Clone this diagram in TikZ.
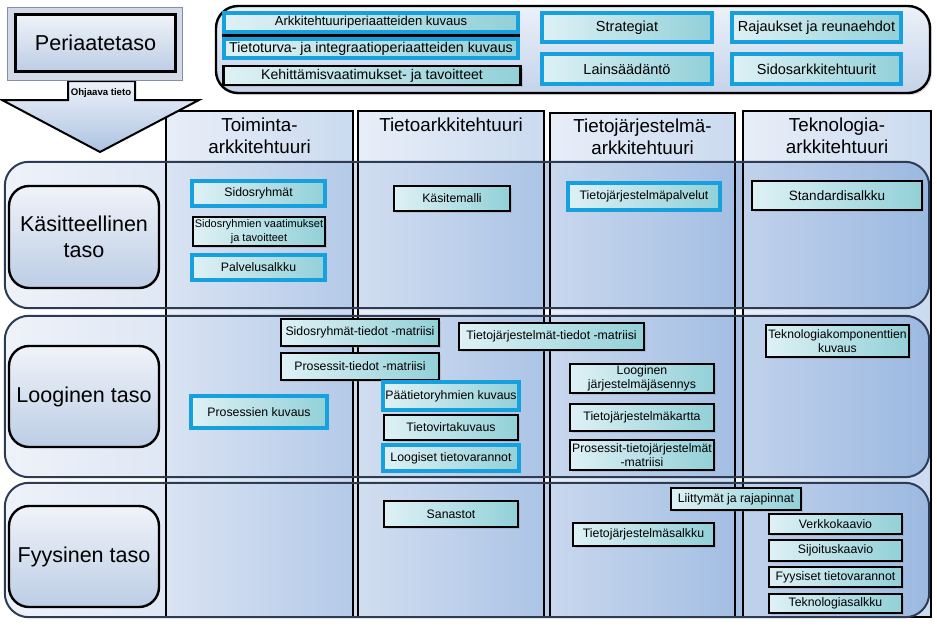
\documentclass[tikz,border=0pt]{standalone}
\usepackage{fontspec}
\setmainfont{Liberation Sans}
\usetikzlibrary{shadows}
\definecolor{bblue}{RGB}{22,160,222}
\definecolor{boxL}{RGB}{222,241,245}
\definecolor{boxR}{RGB}{146,208,216}
\definecolor{rowL}{RGB}{238,242,249}
\definecolor{rowR}{RGB}{150,180,222}
\definecolor{colL}{RGB}{214,225,242}
\definecolor{colR}{RGB}{160,189,228}
\definecolor{rowline}{RGB}{45,60,82}
\definecolor{labL}{RGB}{240,243,249}
\definecolor{labR}{RGB}{188,205,229}
\definecolor{topT}{RGB}{236,241,249}
\definecolor{topB}{RGB}{196,211,234}
\definecolor{perout}{RGB}{210,218,231}
\definecolor{perline}{RGB}{130,143,164}
\definecolor{arrT}{RGB}{238,242,249}
\definecolor{arrB}{RGB}{172,194,226}
\newcommand\fsz[2]{\fontsize{#1pt}{#2pt}\selectfont}
\begin{document}
\begin{tikzpicture}[x=1pt,y=-1pt,
  shd/.style={drop shadow={opacity=0.25, shadow xshift=2pt, shadow yshift=-2pt}},
  bx/.style={draw=black, line width=2.6pt, left color=boxL, right color=boxR, inner sep=0pt, align=center, font=\fsz{12.3}{14.5}, shd},
  bb/.style={bx, draw=bblue, line width=4pt},
  tb/.style={font=\fsz{14.5}{16}},
  rowfill/.style={rounded corners=24pt, left color=rowL, right color=rowR, inner sep=0pt},
  rowedge/.style={draw=rowline, line width=2pt, rounded corners=24pt},
  colst/.style={draw=black, line width=2pt, left color=colL, right color=colR, fill opacity=0.55, inner sep=0pt},
  lab/.style={draw=black, line width=2.4pt, rounded corners=20pt, top color=labL, bottom color=labR, align=center, font=\fsz{21.5}{26}, inner sep=0pt, minimum width=150pt},
  hdr/.style={align=center, font=\fsz{18.8}{22}, inner sep=0pt}
]
\useasboundingbox (0,0) rectangle (937,627);
\fill[white] (0,0) rectangle (937,627);

% rows (fill)
\node[rowfill, minimum width=924pt, minimum height=146pt] (R1) at (467,235) {};
\node[rowfill, minimum width=924pt, minimum height=161pt] (R2) at (467,396.5) {};
\node[rowfill, minimum width=924pt, minimum height=134pt] (R3) at (467,550) {};

% columns
\node[colst, minimum width=187pt, minimum height=506pt] (C1) at (259.5,364) {};
\node[colst, minimum width=186pt, minimum height=506pt] (C2) at (451,364) {};
\node[colst, minimum width=185pt, minimum height=504pt] (C3) at (642.5,365) {};
\node[colst, minimum width=188pt, minimum height=506pt] (C4) at (837,364) {};

% row borders
\draw[rowedge] (R1.north west) rectangle (R1.south east);
\draw[rowedge] (R2.north west) rectangle (R2.south east);
\draw[rowedge] (R3.north west) rectangle (R3.south east);

% guiding arrow
\draw[black, line width=2pt, top color=arrT, bottom color=arrB]
  (68,81) -- (135,81) -- (135,100) -- (199,100) -- (100,152) -- (2,100) -- (68,100) -- cycle;
\node[font=\bfseries\fsz{9.6}{11}, inner sep=0pt] (ohj) at (101,93) {Ohjaava tieto};

% Periaatetaso
\node[draw=perline, line width=1.5pt, fill=perout, minimum width=175pt, minimum height=73pt, inner sep=0pt] (periout) at (95,44) {};
\node[draw=black, line width=2.6pt, top color=labL, bottom color=labR, minimum width=160pt, minimum height=57pt, inner sep=0pt, font=\fsz{21.6}{24}] (peri) at (95.5,43) {Periaatetaso};

% top container
\node[draw=black, line width=2.4pt, rounded corners=22pt, top color=topT, bottom color=topB, minimum width=714pt, minimum height=87pt, shd] (top) at (573,49.5) {};
\draw[black, line width=3pt] (222,35.5) coordinate (s1) -- (520,35.5) coordinate (s2);
\node[bb, font=\fsz{13}{15}, minimum width=294pt, minimum height=19pt] (t1) at (371,22.5) {Arkkitehtuuriperiaatteiden kuvaus};
\node[bb, font=\fsz{14.2}{16}, minimum width=294pt, minimum height=19pt] (t2) at (371,48.5) {Tietoturva- ja integraatioperiaatteiden kuvaus};
\node[bx, font=\fsz{14.1}{16}, minimum width=297.5pt, minimum height=19pt] (t3) at (372,75.5) {Kehittämisvaatimukset- ja tavoitteet};
\node[bb, tb, minimum width=170pt, minimum height=29.5pt] (t4) at (627,27.5) {Strategiat};
\node[bb, tb, minimum width=170pt, minimum height=30.5pt] (t5) at (627,69) {Lainsäädäntö};
\node[bb, tb, minimum width=169pt, minimum height=29.5pt] (t6) at (816.5,27.5) {Rajaukset ja reunaehdot};
\node[bb, tb, minimum width=169pt, minimum height=30.5pt] (t7) at (816.5,69) {Sidosarkkitehtuurit};

% column headers
\node[hdr] (h1) at (259.5,136) {Toiminta-\\arkkitehtuuri};
\node[hdr] (h2) at (451,125) {Tietoarkkitehtuuri};
\node[hdr] (h3) at (642.5,137) {Tietojärjestelmä-\\arkkitehtuuri};
\node[hdr] (h4) at (837,136) {Teknologia-\\arkkitehtuuri};

% row labels
\node[lab, minimum height=102pt] (L1) at (84,237) {Käsitteellinen\\taso};
\node[lab, minimum height=101pt] (L2) at (84,396.5) {Looginen taso};
\node[lab, minimum height=101pt] (L3) at (84,556.5) {Fyysinen taso};

% row 1
\node[bb, minimum width=133pt, minimum height=25.5pt] (b1) at (258.5,193.5) {Sidosryhmät};
\node[bx, font=\fsz{11}{13.5}, minimum width=132pt, minimum height=29pt] (b2) at (259,231.5) {Sidosryhmien vaatimukset\\ja tavoitteet};
\node[bb, minimum width=133pt, minimum height=25.5pt] (b3) at (258.5,267.5) {Palvelusalkku};
\node[bx, minimum width=115.8pt, minimum height=24.8pt] (b4) at (452,198.5) {Käsitemalli};
\node[bb, minimum width=152pt, minimum height=27pt] (b5) at (644,196) {Tietojärjestelmäpalvelut};
\node[bx, font=\fsz{13.5}{15}, minimum width=170pt, minimum height=29pt] (b6) at (837,195.5) {Standardisalkku};

% row 2
\node[bx, minimum width=158pt, minimum height=27pt] (c1) at (360,332.5) {Sidosryhmät-tiedot -matriisi};
\node[bx, minimum width=158pt, minimum height=27pt] (c2) at (360,366.5) {Prosessit-tiedot -matriisi};
\node[bx, minimum width=185pt, minimum height=27pt] (c3) at (551.5,336.5) {Tietojärjestelmät-tiedot -matriisi};
\node[bb, minimum width=136.5pt, minimum height=32.5pt] (c4) at (259,412) {Prosessien kuvaus};
\node[bb, minimum width=136.5pt, minimum height=28.5pt] (c5) at (451,396) {Päätietoryhmien kuvaus};
\node[bx, minimum width=134pt, minimum height=25pt] (c6) at (451,427.5) {Tietovirtakuvaus};
\node[bb, minimum width=136.5pt, minimum height=26.5pt] (c7) at (451,458) {Loogiset tietovarannot};
\node[bx, minimum width=144pt, minimum height=29pt] (c8) at (642,378.5) {Looginen\\järjestelmäjäsennys};
\node[bx, minimum width=144pt, minimum height=27pt] (c9) at (642,417.5) {Tietojärjestelmäkartta};
\node[bx, font=\fsz{12.2}{14}, minimum width=144pt, minimum height=30pt] (c10) at (642,455) {Prosessit-tietojärjestelmät\\-matriisi};
\node[bx, font=\fsz{12.2}{14}, minimum width=143pt, minimum height=32pt] (c11) at (837.5,341) {Teknologiakomponenttien\\kuvaus};

% row 3
\node[bx, minimum width=134pt, minimum height=26pt] (d1) at (451,514) {Sanastot};
\node[bx, minimum width=130pt, minimum height=22pt] (d2) at (736,499) {Liittymät ja rajapinnat};
\node[bx, minimum width=141pt, minimum height=23pt] (d3) at (643.5,534.5) {Tietojärjestelmäsalkku};
\node[bx, minimum width=133pt, minimum height=20pt] (d4) at (835.5,524) {Verkkokaavio};
\node[bx, minimum width=133pt, minimum height=21pt] (d5) at (835.5,550.5) {Sijoituskaavio};
\node[bx, minimum width=133pt, minimum height=20pt] (d6) at (835.5,577) {Fyysiset tietovarannot};
\node[bx, minimum width=133pt, minimum height=19pt] (d7) at (835.5,603.5) {Teknologiasalkku};
\end{tikzpicture}
\end{document}
